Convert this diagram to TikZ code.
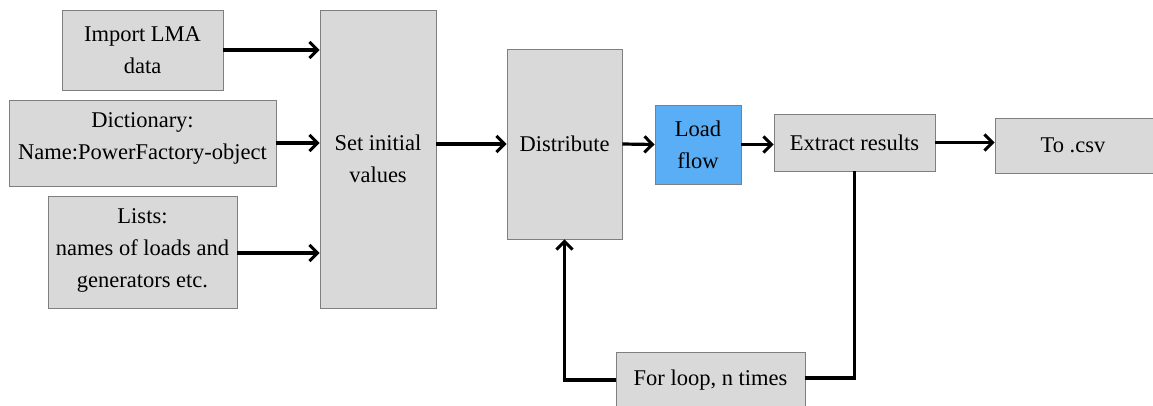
\documentclass[tikz,border=0pt]{standalone}
\usepackage{fontspec}
\setmainfont{Liberation Serif}
\newfontfamily\boxfont{Liberation Serif}
\usetikzlibrary{arrows.meta}
\definecolor{boxgray}{HTML}{D9D9D9}
\definecolor{boxedge}{HTML}{7F7F7F}
\definecolor{lfblue}{HTML}{5AAEF5}
\tikzset{
  box/.style={draw=boxedge, fill=boxgray, line width=0.9pt, align=center, inner sep=0pt,
    font=\boxfont\fontsize{22.5}{32}\selectfont},
  conn/.style={line width=3.2pt, -{Straight Barb[length=8pt,width=16pt,line width=3pt]}},
  plain/.style={line width=3.2pt}
}
\begin{document}
\begin{tikzpicture}[x=1pt,y=-1pt]
\clip (0,0) rectangle (1153,405);
\node[box, minimum width=161pt, minimum height=80pt] (imp) at (142.5,50) {Import LMA\\data};
\node[box, minimum width=267pt, minimum height=86pt, text depth=14pt] (dict) at (142.5,143) {Dictionary:\\Name:PowerFactory-object};
\node[box, minimum width=189pt, minimum height=112pt, text depth=8pt] (lists) at (142.5,252) {Lists:\\names of loads and\\generators etc.};
\node[box, minimum width=116pt, minimum height=298pt] (set) at (378,159) {Set initial\\values};
\node[box, minimum width=115pt, minimum height=190pt] (dist) at (564.5,144) {Distribute};
\node[box, fill=lfblue, minimum width=86pt, minimum height=79pt] (lf) at (698,144.5) {Load\\flow};
\node[box, minimum width=161pt, minimum height=57pt] (ext) at (854.5,142.5) {Extract results};
\node[box, minimum width=160pt, minimum height=55pt] (csv) at (1075,145.5) {\hspace*{-4pt}To .csv};
\node[box, minimum width=189pt, minimum height=56pt] (loop) at (710.5,380) {For loop, n times};

\draw[conn] (imp.east) -- (imp.east -| set.west);
\draw[conn] (dict.east) -- (dict.east -| set.west);
\draw[conn] ([yshift=-1pt]lists.east) -- ([yshift=-1pt]lists.east -| set.west);
\draw[conn] (set.east |- dist.west) -- (dist.west);
\draw[conn] (dist.east) -- (lf.west);
\draw[conn] (lf.east) -- (lf.east -| ext.west);
\draw[conn] (ext.east) -- (ext.east -| csv.west);
\draw[plain] (ext.south) |- ([yshift=2pt]loop.east);
\draw[conn] (loop.west) -| (dist.south);
\end{tikzpicture}
\end{document}
